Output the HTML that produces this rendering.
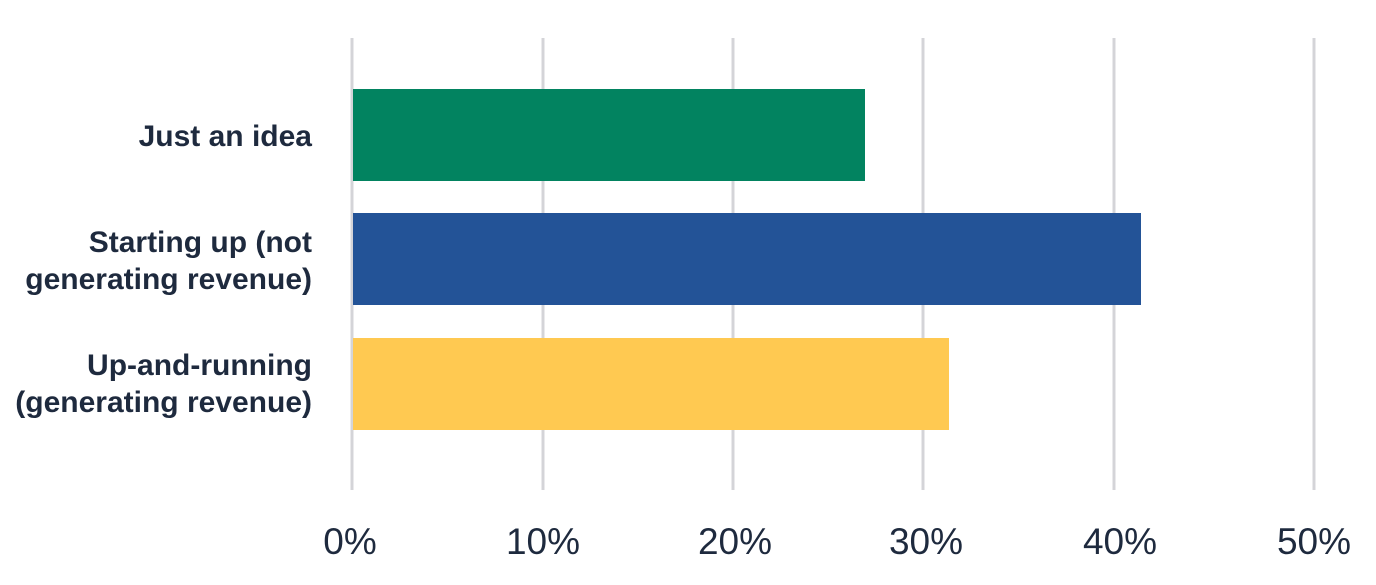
<!DOCTYPE html>
<html><head><style>
body{margin:0;width:1376px;height:580px;background:#fff;overflow:hidden}
</style></head><body>
<svg width="1376" height="580" xmlns="http://www.w3.org/2000/svg">
<g stroke="#d4d4d8" stroke-width="3">
<line x1="352" y1="38" x2="352" y2="490"/>
<line x1="543" y1="38" x2="543" y2="490"/>
<line x1="733" y1="38" x2="733" y2="490"/>
<line x1="923" y1="38" x2="923" y2="490"/>
<line x1="1114" y1="38" x2="1114" y2="490"/>
<line x1="1314" y1="38" x2="1314" y2="490"/>
</g>
<rect x="353" y="89" width="512" height="92" fill="#028360"/>
<rect x="353" y="213" width="788" height="92" fill="#235397"/>
<rect x="353" y="338" width="596" height="92" fill="#ffc951"/>
<g font-family="Liberation Sans, sans-serif" font-size="37" fill="#1e2a3e" text-anchor="middle">
<text x="350" y="554">0%</text>
<text x="543" y="554">10%</text>
<text x="735" y="554">20%</text>
<text x="926" y="554">30%</text>
<text x="1120" y="554">40%</text>
<text x="1314" y="554">50%</text>
</g>
<g font-family="Liberation Sans, sans-serif" font-size="30" font-weight="bold" fill="#1e2a3e" text-anchor="end">
<text x="312" y="146">Just an idea</text>
<text x="312" y="252">Starting up (not</text>
<text x="312" y="289">generating revenue)</text>
<text x="312" y="375">Up-and-running</text>
<text x="312" y="412">(generating revenue)</text>
</g>
</svg>
</body></html>
